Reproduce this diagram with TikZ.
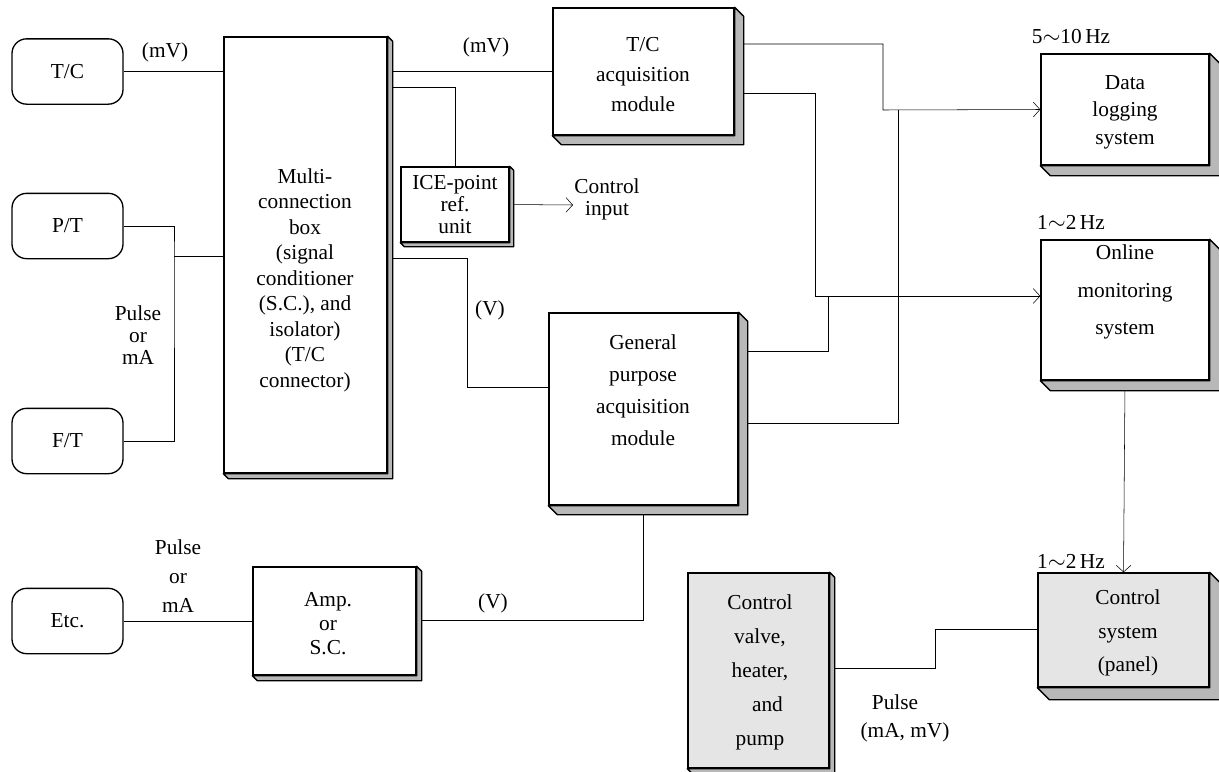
\documentclass[tikz,border=0pt]{standalone}
\usepackage{fontspec}
\setmainfont{Liberation Serif}
\usetikzlibrary{arrows.meta,calc}
\pgfdeclarelayer{bg}
\pgfsetlayers{bg,main}
\newcommand{\boxshd}[2]{\path[shd] (#1.north east) -- ++(#2,#2) -- ($(#1.south east)+(#2,#2)$) -- ($(#1.south west)+(#2,#2)$) -- (#1.south west) -- (#1.south east) -- cycle;}
\begin{document}
\begin{tikzpicture}[x=0.75pt,y=-0.75pt, line width=1pt,
  font=\fontsize{16}{20}\selectfont,
  box/.style={draw, fill=white, inner sep=0pt},
  gbox/.style={draw, fill=black!10, inner sep=0pt},
  src/.style={draw, fill=white, rounded corners=11pt, inner sep=0pt, minimum width=83.25pt, minimum height=49pt},
  txt/.style={align=center, inner sep=0pt},
  arr/.style={-{Straight Barb[length=5pt,width=11pt]}},
  shd/.style={fill=black!28, draw=black, line width=1pt, line join=round}]
\useasboundingbox (0,0) rectangle (1219,771);

% sources
\node[src] (tc) at (67.5,71.5) {T/C};
\node[src] (pt) at (67.5,226) {P/T};
\node[src] (ft) at (67.5,441) {F/T};
\node[src] (etc) at (67.5,621) {Etc.};

% multi-connection box
\node[box, minimum width=122.25pt, minimum height=327pt] (multi) at (305.5,255) {};
\boxshd{multi}{5}
\node[txt, font=\fontsize{16}{19.1}\selectfont] (multit) at (305,280) {Multi-\\connection\\box\\(signal\\conditioner\\(S.C.), and\\isolator)\\(T/C\\connector)};

% ICE point
\node[box, minimum width=81pt, minimum height=56.25pt] (ice) at (455,204.5) {};
\boxshd{ice}{4}
\node[txt, font=\fontsize{16}{16.5}\selectfont] (icet) at (455,205) {ICE-point\\ref.\\unit};

% T/C acquisition
\node[box, minimum width=135.75pt, minimum height=95.25pt] (tcacq) at (643.5,71.5) {};
\boxshd{tcacq}{9}
\node[txt, font=\fontsize{16}{22.5}\selectfont] (tcacqt) at (643,75) {T/C\\acquisition\\module};

% General purpose
\node[box, minimum width=141.75pt, minimum height=144pt] (gp) at (643.5,409) {};
\boxshd{gp}{9}
\node[txt, font=\fontsize{16}{24}\selectfont] (gpt) at (643,390) {General\\purpose\\acquisition\\module};

% Amp
\node[box, minimum width=122.25pt, minimum height=81pt] (amp) at (334.5,621) {};
\boxshd{amp}{5}
\node[txt, font=\fontsize{16}{18}\selectfont] (ampt) at (328,624) {Amp.\\or\\S.C.};

% Data logging
\node[box, minimum width=126pt, minimum height=83.25pt] (data) at (1125,109.5) {};
\boxshd{data}{10}
\node[txt, font=\fontsize{16}{20.6}\selectfont] (datat) at (1125,112) {Data\\logging\\system};

% Online monitoring
\node[box, minimum width=126pt, minimum height=105pt] (online) at (1125,310) {};
\boxshd{online}{10}
\node[txt, font=\fontsize{16}{28}\selectfont] (onlinet) at (1125,292) {Online\\monitoring\\system};

% Control system
\node[gbox, minimum width=128.25pt, minimum height=85.5pt] (ctrl) at (1123.5,630) {};
\boxshd{ctrl}{12}
\node[txt, font=\fontsize{16}{25}\selectfont] (ctrlt) at (1128,633) {Control\\system\\(panel)};

% Control valve
\node[gbox, minimum width=105.75pt, minimum height=146.25pt] (valve) at (758.5,670.5) {};
\boxshd{valve}{5}
\node[txt, font=\fontsize{16}{25.5}\selectfont] (valvet) at (760,672) {Control\\valve,\\heater,\\\hspace*{0.7em}and\\pump};

% coordinates
\coordinate (mR) at (392,0);
\coordinate (j1) at (174,256);
\coordinate (i1) at (457,87);
\coordinate (ci) at (573,205);
\coordinate (b1) at (467,258);
\coordinate (gpin) at (549,387);
\coordinate (t1) at (743,44);
\coordinate (t2) at (743,93);
\coordinate (k1) at (883,110);
\coordinate (k2) at (815,296);
\coordinate (g1) at (747,351);
\coordinate (g2) at (747,423);
\coordinate (h1) at (828,296);
\coordinate (h2) at (898,110);
\coordinate (v1) at (935,629);
\coordinate (v2) at (935,668);
\coordinate (a1) at (643,620);

\begin{pgfonlayer}{bg}
\draw (tc.east) -- (tc.east -| multi.west);
\draw (pt.east) -| (j1) |- (ft.east);
\draw (j1) -- (j1 -| multi.west);
\draw (mR |- tcacq.west) -- (tcacq.west);
\draw (mR |- i1) -| (ice.north);
\draw[arr] (ice.east) -- (ci);
\draw (mR |- b1) -- (b1) |- (gpin);
\draw[arr] (t1) -| (k1) -- (data.west);
\draw[arr] (t2) -| (k2) -- (k2 -| online.west);
\draw (g1) -| (h1);
\draw (g2) -| (h2);
\draw[arr] (online.south) -- (ctrl.north);
\draw (ctrl.west |- v1) -- (v1) -- (v2) -- (valve.east |- v2);
\draw (gp.south -| a1) -- (a1) -- (amp.east |- a1);
\draw (etc.east) -- (amp.west |- etc.east);
\end{pgfonlayer}

% labels
\node[txt] (l1) at (165,52) {(mV)};
\node[txt] (l2) at (486,47) {(mV)};
\node[txt, font=\fontsize{16}{16.5}\selectfont] (l3) at (138,335) {Pulse\\or\\mA};
\node[txt] (l4) at (490,310) {(V)};
\node[txt] (l5) at (493,603) {(V)};
\node[txt, font=\fontsize{16}{22}\selectfont] (l6) at (178,576) {Pulse\\or\\mA};
\node[txt, font=\fontsize{16}{16.5}\selectfont] (l7) at (607,199) {Control\\input};
\node[txt] (l8) at (1071,37) {5$\sim$10\,Hz};
\node[txt] (l9) at (1071,222) {1$\sim$2\,Hz};
\node[txt] (l10) at (1071,561) {1$\sim$2\,Hz};
\node[txt] (l11) at (895,702) {Pulse};
\node[txt] (l12) at (905,732) {(mA, mV)};
\end{tikzpicture}
\end{document}
